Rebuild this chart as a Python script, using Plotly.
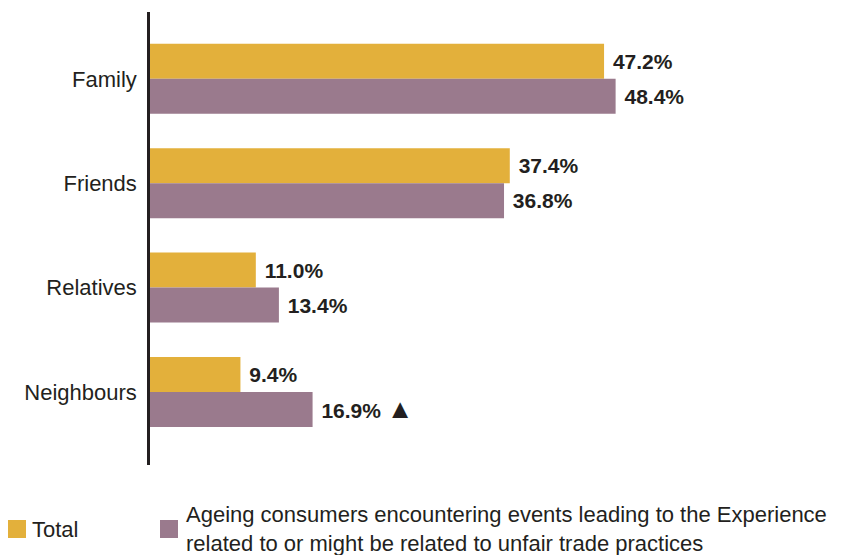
import plotly.graph_objects as go

categories = ["Family", "Friends", "Relatives", "Neighbours"]
total_values = [47.2, 37.4, 11.0, 9.4]
ageing_values = [48.4, 36.8, 13.4, 16.9]
ageing_marks = ["", "", "", "▲"]

series_names = [
    "Total",
    "Ageing consumers encountering events leading to the Experience<br>related to or might be related to unfair trade practices",
]

GOLD = "#E3B03B"
MAUVE = "#9A7A8D"
INK = "#231F20"

W, H = 848, 555
L, R, T, B = 150, 0, 12, 90
plot_w = W - L - R
plot_h = H - T - B


def px_x(px):
    return (px - L) / plot_w


def px_y(py):
    return (H - B - py) / plot_h


def label(v, mark=""):
    txt = f"\u00a0<b>{v:.1f}%</b>"
    if mark:
        txt += f"\u00a0<span style='font-size:27px'>{mark}</span>"
    return txt


fig = go.Figure()
fig.add_bar(
    y=categories, x=total_values, orientation="h", name=series_names[0],
    marker_color=GOLD, text=[label(v) for v in total_values],
    textposition="outside", cliponaxis=False, showlegend=False,
)
fig.add_bar(
    y=categories, x=ageing_values, orientation="h", name=series_names[1],
    marker_color=MAUVE, text=[label(v, m) for v, m in zip(ageing_values, ageing_marks)],
    textposition="outside", cliponaxis=False, showlegend=False,
)
fig.update_traces(
    textfont=dict(family="Liberation Sans, Arial, sans-serif", size=21, color=INK),
    marker_line_width=0,
)

# Legend: swatches and labels below the plot
swatches = [(8, GOLD, 30, series_names[0]), (160, MAUVE, 184, series_names[1])]
for sx, col, tx, txt in swatches:
    fig.add_shape(
        type="rect", xref="paper", yref="paper",
        x0=px_x(sx), x1=px_x(sx + 18), y0=px_y(538), y1=px_y(520),
        fillcolor=col, line_width=0,
    )
    fig.add_annotation(
        xref="paper", yref="paper", x=px_x(tx), y=px_y(529),
        xanchor="left", yanchor="middle", align="left", showarrow=False,
        text=txt,
        font=dict(family="Liberation Sans Narrow, Arial Narrow, sans-serif", size=22, color=INK),
    )

fig.update_layout(
    width=W, height=H,
    margin=dict(l=L, r=R, t=T, b=B),
    paper_bgcolor="white", plot_bgcolor="white",
    barmode="group", bargap=0.33, bargroupgap=0,
    xaxis=dict(range=[0, plot_w / 9.62], visible=False, fixedrange=True),
    yaxis=dict(
        range=[3.70, -0.64], showline=True, linecolor=INK, linewidth=2.5,
        showgrid=False, zeroline=False, ticks="", ticklabelstandoff=6,
        tickfont=dict(family="Liberation Sans, Arial, sans-serif", size=22, color=INK),
    ),
    font=dict(family="Liberation Sans, Arial, sans-serif", color=INK),
)

fig.write_html("out.html")
